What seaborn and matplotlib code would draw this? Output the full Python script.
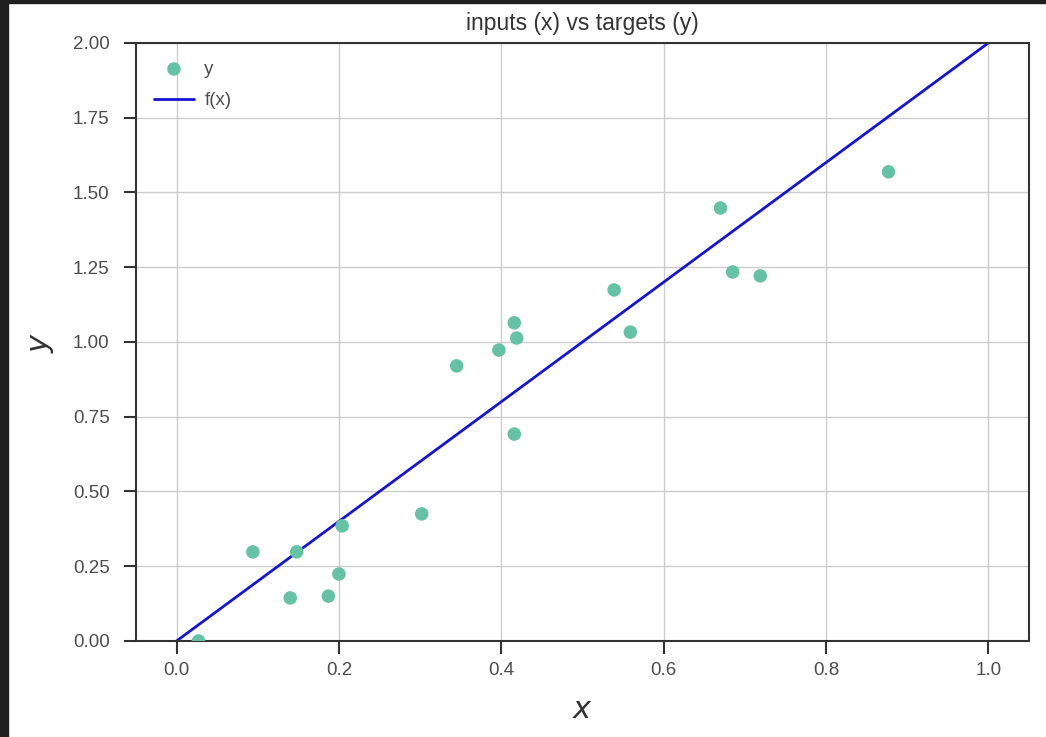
import matplotlib
matplotlib.use("Agg")
import matplotlib.pyplot as plt
from matplotlib.patches import Rectangle
import seaborn as sns
import pandas as pd

# inputs / targets
inputs = [0.027, 0.094, 0.148, 0.140, 0.187, 0.200, 0.204, 0.302, 0.345, 0.397,
          0.416, 0.419, 0.416, 0.539, 0.559, 0.670, 0.685, 0.719, 0.877]
targets = [0.000, 0.298, 0.298, 0.144, 0.150, 0.224, 0.385, 0.425, 0.920, 0.973,
           1.064, 1.013, 0.692, 1.174, 1.033, 1.448, 1.234, 1.221, 1.569]

# f(x) = 2x line endpoints
line_x = [0.0, 1.0]
line_y = [0.0, 2.0]

x_ticks = [0.0, 0.2, 0.4, 0.6, 0.8, 1.0]
y_ticks = [0.00, 0.25, 0.50, 0.75, 1.00, 1.25, 1.50, 1.75, 2.00]

sns.set_theme(style="whitegrid", rc={
    "axes.edgecolor": ".2",
    "axes.linewidth": 1.5,
    "grid.color": ".8",
    "grid.linewidth": 1.0,
    "xtick.bottom": True,
    "ytick.left": True,
    "xtick.direction": "out",
    "ytick.direction": "out",
    "xtick.major.size": 9,
    "ytick.major.size": 9,
    "xtick.major.width": 1.5,
    "ytick.major.width": 1.5,
    "xtick.color": ".2",
    "ytick.color": ".2",
})
plt.rcParams["font.family"] = ["Liberation Sans", "DejaVu Sans"]

df = pd.DataFrame({"x": inputs, "y": targets})
line_df = pd.DataFrame({"x": line_x, "y": line_y})

fig = plt.figure(figsize=(10.46, 7.37), dpi=100)
ax = fig.add_axes([0.130, 0.1303, 0.8537, 0.8114])

sns.scatterplot(data=df, x="x", y="y", ax=ax, color="#66c2a5", s=95,
                edgecolor="none", label="y", zorder=3)
sns.lineplot(data=line_df, x="x", y="y", ax=ax, color="#1414d2", linewidth=2,
             label="f(x)", zorder=2)

ax.set_xlim(-0.05, 1.05)
ax.set_ylim(0, 2.0)
ax.set_xticks(x_ticks)
ax.set_yticks(y_ticks)
ax.set_xticklabels([f"{v:.1f}" for v in x_ticks])
ax.set_yticklabels([f"{v:.2f}" for v in y_ticks])
ax.tick_params(labelsize=13.5, labelcolor=".3")
ax.tick_params(axis="x", pad=6)
ax.tick_params(axis="y", pad=10)

ax.set_title("inputs (x) vs targets (y)", fontsize=16.5, color=".2", pad=9)
ax.set_xlabel("$x$", fontsize=22, color=".2", labelpad=12)
ax.set_ylabel("$y$", fontsize=22, color=".2", labelpad=12)

leg = ax.legend(loc="upper left", frameon=False, fontsize=13.5,
                handlelength=2.15, handletextpad=0.55, borderaxespad=0.35,
                borderpad=0.6, labelspacing=0.75)
for t in leg.get_texts():
    t.set_color(".3")

for s in ax.spines.values():
    s.set_visible(True)
    s.set_color(".2")

# dark screenshot frame on the top and left edges
fig.add_artist(Rectangle((0, 0), 8 / 1046, 1, transform=fig.transFigure,
                         color="#1f1f1f", zorder=10))
fig.add_artist(Rectangle((0, 1 - 3 / 737), 1, 3 / 737, transform=fig.transFigure,
                         color="#1f1f1f", zorder=10))

fig.savefig("out.png", dpi=100)
